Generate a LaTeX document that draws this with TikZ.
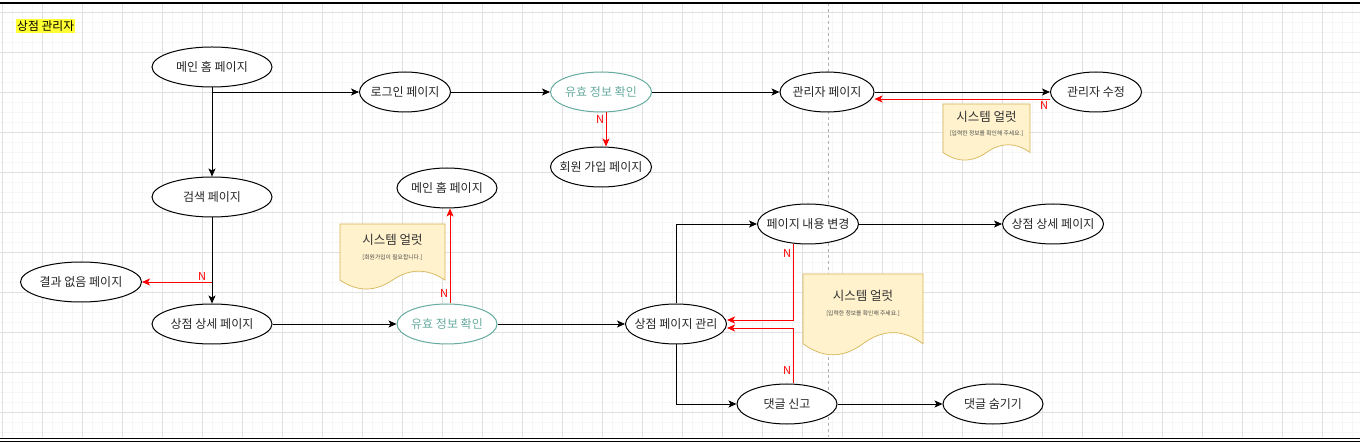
\documentclass[tikz,border=0pt]{standalone}
\usepackage{fontspec}
\setmainfont{Noto Sans CJK KR}
\usepackage{tikz}
\usetikzlibrary{arrows.meta,positioning,calc,shapes.geometric}
\definecolor{figteal}{RGB}{103,171,159}
\definecolor{figred}{RGB}{255,0,0}
\definecolor{notefill}{RGB}{255,242,204}
\definecolor{noteline}{RGB}{214,182,86}
\definecolor{gridmajor}{RGB}{224,224,224}
\definecolor{gridminor}{RGB}{246,246,246}
\definecolor{marker}{RGB}{255,255,51}
\tikzset{
  pagenode/.style={ellipse, draw=black, line width=1pt, fill=white, minimum height=40pt, inner xsep=-10pt, inner ysep=0pt, font=\fontsize{12}{14}\selectfont, text=black!85},
  checknode/.style={pagenode, draw=figteal, text=figteal},
  notebox/.style={draw=noteline, fill=notefill, line width=0.7pt},
  notetitle/.style={font=\fontsize{12.5}{14}\selectfont, text=black!80, inner sep=0pt},
  notetext/.style={font=\fontsize{5.8}{7}\selectfont, text=black!70, inner sep=0pt},
  flow/.style={-{Stealth[length=8pt,width=7pt,inset=2pt]}, draw=black, line width=0.9pt},
  noflow/.style={flow, draw=figred},
  nlabel/.style={font=\fontsize{11}{13}\selectfont, text=figred, inner sep=1.5pt}
}
% alert note: name, left, top, width, height, message
\newcommand{\alertnote}[6]{
  \node[minimum width=#4pt, minimum height=#5pt, inner sep=0pt, anchor=north west] (#1) at (#2,#3) {};
  \draw[notebox] (#2,#3) -- ({#2+#4},#3) -- ({#2+#4},{#3+0.85*#5})
    .. controls ({#2+#4*5/6},{#3+0.67*#5}) and ({#2+#4*2/3},{#3+0.67*#5}) .. ({#2+#4/2},{#3+0.85*#5})
    .. controls ({#2+#4/3},{#3+1.03*#5}) and ({#2+#4/6},{#3+1.03*#5}) .. (#2,{#3+0.85*#5}) -- cycle;
  \node[notetitle] (#1-title) at ({#2+#4/2},{#3+0.375*#5-8.5}) {시스템 얼럿};
  \node[notetext] (#1-msg) at ({#2+#4/2},{#3+0.375*#5+8.5}) {#6};
}

\begin{document}
\begin{tikzpicture}[x=1pt,y=-1pt]
  \useasboundingbox (0,0) rectangle (1360,443);
  \fill[white] (0,0) rectangle (1360,443);
  \begin{scope}[shift={(2,12)}]
    \draw[gridminor, line width=0.5pt, step=10pt] (-2,-9) grid (1358,425);
    \draw[gridmajor, line width=0.6pt, step=40pt] (-2,-9) grid (1358,425);
  \end{scope}
  \draw[black!30, dashed, line width=0.6pt] (828.5,3) -- (828.5,437);
  \draw[black, line width=1.3pt] (0,3) -- (1360,3);
  \draw[black, line width=1.2pt] (0,438.8) -- (1360,438.8);
  \draw[black, line width=1.2pt] (0,441.8) -- (1360,441.8);

  \node[fill=marker, inner xsep=1pt, inner ysep=1.2pt, anchor=west, font=\fontsize{11.8}{13}\selectfont] (roletitle) at (16,26) {상점 관리자};

  \node[pagenode, minimum width=120pt] (mainhome) at (212,67) {메인 홈 페이지};
  \node[pagenode, minimum width=91pt] (login) at (405,92) {로그인 페이지};
  \node[checknode, minimum width=101pt] (checkA) at (601,92) {유효 정보 확인};
  \node[pagenode, minimum width=101pt] (signup) at (601,167) {회원 가입 페이지};
  \node[pagenode, minimum width=94pt] (adminpage) at (827,92) {관리자 페이지};
  \node[pagenode, minimum width=91pt] (adminedit) at (1096,92) {관리자 수정};

  \node[pagenode, minimum width=120pt] (search) at (212,197) {검색 페이지};
  \node[pagenode, minimum width=100pt] (mainhomeB) at (447,188) {메인 홈 페이지};
  \node[pagenode, minimum width=121pt] (noresult) at (81,282) {결과 없음 페이지};
  \node[pagenode, minimum width=120pt] (shopdetail) at (212,324) {상점 상세 페이지};
  \node[checknode, minimum width=100pt] (checkB) at (447,324) {유효 정보 확인};
  \node[pagenode, minimum width=101pt] (shopmanage) at (676,324) {상점 페이지 관리};
  \node[pagenode, minimum width=101pt] (editpage) at (808,224) {페이지 내용 변경};
  \node[pagenode, minimum width=101pt] (shopdetailB) at (1053,224) {상점 상세 페이지};
  \node[pagenode, minimum width=100pt] (report) at (787,404) {댓글 신고};
  \node[pagenode, minimum width=100pt] (hide) at (993,404) {댓글 숨기기};

  \alertnote{alertA}{943}{104}{87}{57}{[입력한 정보를 확인해 주세요.]}
  \alertnote{alertB}{340}{224}{105}{66}{[회원가입이 필요합니다.]}
  \alertnote{alertC}{803}{274}{120}{82}{[입력한 정보를 확인해 주세요.]}

  \draw[flow] (mainhome.south) |- (login.west);
  \draw[flow] (mainhome.south) -- (search.north);
  \draw[flow] (login.east) -- (checkA.west);
  \draw[flow] (checkA.east) -- (adminpage.west);
  \draw[noflow] ([xshift=5pt]checkA.south) -- node[nlabel, pos=0.2, anchor=east] {N} ([xshift=5pt]signup.north);
  \draw[flow] (adminpage.east) -- (adminedit.west);
  \draw[noflow] ([yshift=-7pt]adminedit.west) -- node[nlabel, pos=0, anchor=north east] {N} ([yshift=-7pt]adminpage.east);

  \coordinate (nosplit) at (search.south |- noresult.east);
  \draw[flow] (search.south) -- (shopdetail.north);
  \draw[noflow] (nosplit) -- node[nlabel, pos=0.14, anchor=south] {N} (noresult.east);
  \draw[flow] (shopdetail.east) -- (checkB.west);
  \draw[noflow] ([xshift=3pt]checkB.north) -- node[nlabel, pos=0.11, anchor=east] {N} ([xshift=3pt]mainhomeB.south);
  \draw[flow] (checkB.east) -- (shopmanage.west);
  \draw[flow] (shopmanage.north) |- (editpage.west);
  \draw[flow] (shopmanage.south) |- (report.west);
  \draw[flow] (editpage.east) -- (shopdetailB.west);
  \draw[flow] (report.east) -- (hide.west);
  \draw[noflow] ([xshift=-15pt]editpage.south) |- node[nlabel, pos=0.06, anchor=east] {N} ([yshift=4pt]shopmanage.east);
  \draw[noflow] ([xshift=6pt]report.north) |- node[nlabel, pos=0.12, anchor=east] {N} ([yshift=-4pt]shopmanage.east);
\end{tikzpicture}
\end{document}
